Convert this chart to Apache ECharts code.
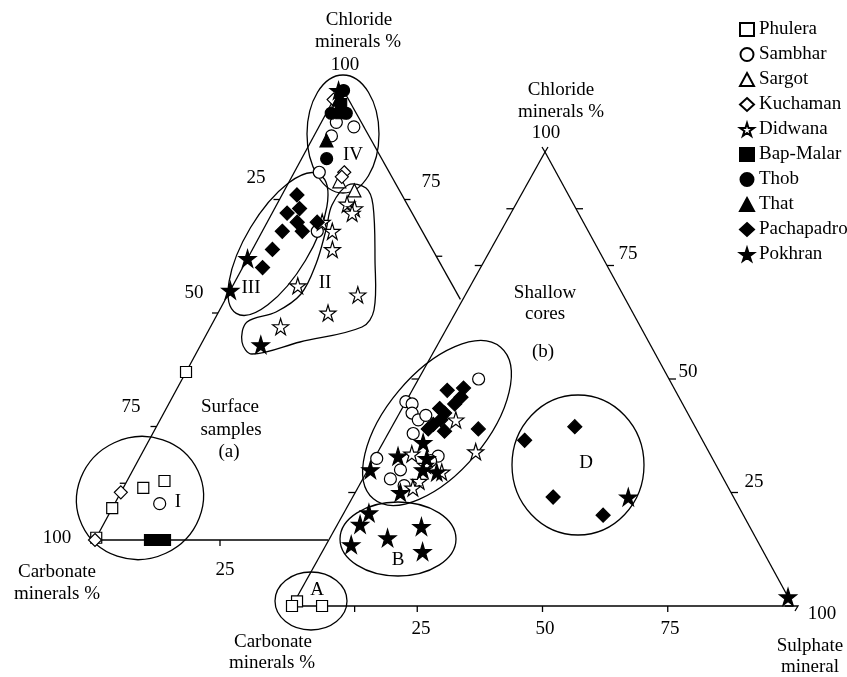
<!DOCTYPE html>
<html><head><meta charset="utf-8">
<script src="https://cdn.jsdelivr.net/npm/echarts@6/dist/echarts.min.js"></script>
<style>html,body{margin:0;padding:0;background:#fff}#c{width:847px;height:677px}</style>
</head><body><div id="c"></div>
<script>
// ---- DATA: each point is [chloride %, sulphate %, carbonate %] ----
const locations = ['Phulera','Sambhar','Sargot','Kuchaman','Didwana','Bap-Malar','Thob','That','Pachapadro','Pokhran'];
// (a) surface samples
const phuleraSurface = [[37,0,63],[11.5,4,84.5],[13,7.5,79.5],[7,0,93],[0.5,0,99.5]];
const sambharSurface = [[8,9,83],[92,3,5],[91,7,2],[89,3.5,7.5],[81,5,14],[68,11,21]];
const sargotSurface = [[79,10,11],[77,14,9]];
const kuchamanSurface = [[97,0,3],[81,10,9],[80,10,10],[10.5,0,89.5],[0,0,100]];
const didwanaSurface = [[74,14,12],[73,16,11],[72,16,12],[70,11,19],[68,14,18],[64,16,20],[56,13,31],[54,26,20],[50,22,28],[47,14,39]];
const bapMalarSurface = [[96,2,2],[94,3,3],[0,11,89],[0,12.5,87.5],[0,14,86]];
const thobSurface = [[99,1,0],[94,1,5],[94,4,2],[84,5,11]];
const thatSurface = [[97,1,2],[88,3,9]];
const pachapadroSurface = [[76,3,21],[72,3,25],[73,5,22],[70,6,24],[68,8,24],[70,10,20],[68,4,28],[64,4,32],[60,4,36]];
const pokhranSurface = [[99,0,1],[62,0,38],[55,0,45],[43,12,45]];
// (b) shallow cores
const phuleraCores = [[1,0.5,98.5],[0,0,100],[0,6,94]];
const sambharCores = [[50,12,38],[45,0,55],[44.5,1.5,54],[42.5,2.5,55],[41,4.5,54.5],[42,5.5,52.5],[38,5,57],[32.5,0.5,67],[33,12.5,54.5],[30,6.5,63.5],[28,5.5,66.5],[26.5,9,64.5],[32,11.5,56.5]];
const didwanaCores = [[41,12,47],[34,19.5,46.5],[33.5,7,59.5],[31,11,58],[29.5,15,55.5],[27.5,11.5,61],[26,11,63]];
const pachapadroCores = [[47.5,7,45.5],[48,10,42],[46,10.5,43.5],[44.5,10,45.5],[43.5,7.5,49],[42.5,9,48.5],[41,9,50],[40,8,52],[38.5,11,50.5],[39,7.5,53.5],[39,17.5,43.5],[36.5,28,35.5],[39.5,36.5,24],[24,40,36],[20,52,28]];
const pokhranCores = [[30,0.5,69.5],[33,4.5,62.5],[36,8,56],[32.5,10.5,57],[30,11,59],[29.5,14,56.5],[25,9,66],[20.5,5,74.5],[18,4.5,77.5],[13.5,5,81.5],[15,11.5,73.5],[17.5,17,65.5],[12,20,68],[24,55,21],[2,98,0]];
// tick labels
const tickLabelsA = ['25','50','75','100'];
const tickLabelsB = ['25','50','75','100'];

// ---- LAYOUT ----
const FONT = '19px "Liberation Serif", "Times New Roman", serif';
const TRI_A = {top:[341,86], left:[95,540], right:[595,540]};
const TRI_B = {top:[545,152], left:[292,606], right:[793,606]};
function tern(tri, v){
  const cl=v[0], so=v[1], ca=v[2], t=cl+so+ca;
  return [(cl*tri.top[0]+ca*tri.left[0]+so*tri.right[0])/t,
          (cl*tri.top[1]+ca*tri.left[1]+so*tri.right[1])/t];
}
const STAR = 'path://M50,0 L61,35 L98,35 L68,57 L79,91 L50,70 L21,91 L32,57 L2,35 L39,35 Z';
const styles = {
  'Phulera':   {symbol:'rect', size:11, fill:'#fff'},
  'Sambhar':   {symbol:'circle', size:12, fill:'#fff'},
  'Sargot':    {symbol:'triangle', size:13, fill:'#fff'},
  'Kuchaman':  {symbol:'diamond', size:13, fill:'#fff'},
  'Didwana':   {symbol:STAR, size:16, fill:'#fff'},
  'Bap-Malar': {symbol:'rect', size:11, fill:'#000'},
  'Thob':      {symbol:'circle', size:12, fill:'#000'},
  'That':      {symbol:'triangle', size:13, fill:'#000'},
  'Pachapadro':{symbol:'diamond', size:14, fill:'#000'},
  'Pokhran':   {symbol:STAR, size:17, fill:'#000'}
};
const seriesData = {
  'Phulera':[phuleraSurface, phuleraCores],
  'Sambhar':[sambharSurface, sambharCores],
  'Sargot':[sargotSurface, []],
  'Kuchaman':[kuchamanSurface, []],
  'Didwana':[didwanaSurface, didwanaCores],
  'Bap-Malar':[bapMalarSurface, []],
  'Thob':[thobSurface, []],
  'That':[thatSurface, []],
  'Pachapadro':[pachapadroSurface, pachapadroCores],
  'Pokhran':[pokhranSurface, pokhranCores]
};

const edges = [
  [TRI_A,[100,0,0],[0,0,100]],
  [TRI_A,[0,0,100],[0,46.6,53.4]],
  [TRI_A,[100,0,0],[53,47,0]],
  [TRI_B,[100,0,0],[0,0,100]],
  [TRI_B,[0,0,100],[0,100,0]],
  [TRI_B,[0,100,0],[100,0,0]]
];

const series = [];
edges.forEach(e=>{
  series.push({type:'line', data:[tern(e[0],e[1]), tern(e[0],e[2])], showSymbol:false, silent:true,
    lineStyle:{color:'#000', width:1.3}, z:1, animation:false});
});
locations.forEach(name=>{
  const st = styles[name];
  const d = seriesData[name][0].map(v=>tern(TRI_A,v)).concat(seriesData[name][1].map(v=>tern(TRI_B,v)));
  series.push({type:'scatter', name:name, data:d, symbol:st.symbol, symbolSize:st.size,
    itemStyle:{color:st.fill, borderColor:'#000', borderWidth:1.2, opacity:1}, z:3, animation:false,
    emphasis:{disabled:true}});
});

const chart = echarts.init(document.getElementById('c'));
chart.setOption({
  animation:false,
  grid:{left:0,right:0,top:0,bottom:0},
  xAxis:{type:'value', min:0, max:847, show:false},
  yAxis:{type:'value', min:0, max:677, inverse:true, show:false},
  legend:{data:locations, orient:'vertical', left:734, top:15, itemWidth:14, itemHeight:13, itemGap:6,
    textStyle:{fontFamily:'"Liberation Serif", serif', fontSize:19, color:'#000', lineHeight:16}},
  series:series
});

// ticks
const tickSpecs = [
  [TRI_A,[100,0,0],[0,0,100],[0.25,0.5,0.75,0.875],[-6,0]],
  [TRI_A,[100,0,0],[0,100,0],[0.25,0.375],[6,0]],
  [TRI_A,[0,0,100],[0,100,0],[0.25],[0,6]],
  [TRI_B,[100,0,0],[0,0,100],[0.125,0.25,0.5,0.75],[-7,0]],
  [TRI_B,[100,0,0],[0,100,0],[0.125,0.25,0.5,0.75],[7,0]],
  [TRI_B,[0,0,100],[0,100,0],[0.125,0.25,0.5,0.75],[0,6]]
];
const graphics = [];
tickSpecs.forEach(ts=>{
  ts[3].forEach(f=>{
    const v = [0,1,2].map(i=>ts[1][i]*(1-f)+ts[2][i]*f);
    const p = chart.convertToPixel({xAxisIndex:0,yAxisIndex:0}, tern(ts[0],v));
    graphics.push({type:'line', shape:{x1:p[0],y1:p[1],x2:p[0]+ts[4][0],y2:p[1]+ts[4][1]},
      style:{stroke:'#000', lineWidth:1.3}, z:1, silent:true});
  });
});
// apex & corner extensions of (b)
const apx = chart.convertToPixel({xAxisIndex:0,yAxisIndex:0}, tern(TRI_B,[100,0,0]));
graphics.push({type:'polyline', shape:{points:[[apx[0]-3,apx[1]-5],[apx[0],apx[1]],[apx[0]+3,apx[1]-5]]}, style:{stroke:'#000',lineWidth:1.3,fill:null}, silent:true});
const brx = chart.convertToPixel({xAxisIndex:0,yAxisIndex:0}, tern(TRI_B,[0,100,0]));
graphics.push({type:'polyline', shape:{points:[[brx[0]-8,brx[1]],[brx[0]+5,brx[1]],[brx[0]+2,brx[1]+5]]}, style:{stroke:'#000',lineWidth:1.3,fill:null}, silent:true});

// group outlines
const ellipses = [
  [343,134,36,59,0],      // IV
  [278,244,81,32,59],     // III
  [140,498,64,61,25],     // I
  [437,423,99,50,50],     // big (b)
  [398,539,58,37,0],      // B
  [311,601,36,29,0],      // A
  [578,465,66,70,0]       // D
];
ellipses.forEach(e=>{
  graphics.push({type:'ellipse', x:e[0], y:e[1], rotation:e[4]*Math.PI/180,
    shape:{cx:0,cy:0,rx:e[2],ry:e[3]}, style:{fill:null, stroke:'#000', lineWidth:1.3}, z:2, silent:true});
});
graphics.push({type:'polygon', shape:{smooth:0.35, points:[[348,185],[366,188],[373,205],[375,260],[374,310],[362,327],[300,342],[252,354],[242,342],[247,322],[276,312],[301,294],[316,264],[326,230],[332,205]]},
  style:{fill:null, stroke:'#000', lineWidth:1.3}, z:2, silent:true});

const texts = [
  ['Chloride',359,20],['minerals %',358,42],['100',345,65],
  [tickLabelsA[0],256,178],[tickLabelsA[1],194,293],[tickLabelsA[2],131,407],[tickLabelsA[3],57,538],
  ['Carbonate',57,572],['minerals %',57,594],
  [tickLabelsA[0],225,570],[tickLabelsA[2],431,182],
  ['Surface',230,407],['samples',231,430],['(a)',229,452],
  ['Chloride',561,90],['minerals %',561,112],[tickLabelsB[3],546,133],
  [tickLabelsB[2],628,254],[tickLabelsB[1],688,372],[tickLabelsB[0],754,482],
  [tickLabelsB[0],421,629],[tickLabelsB[1],545,629],[tickLabelsB[2],670,629],[tickLabelsB[3],822,614],
  ['Carbonate',273,642],['minerals %',272,663],
  ['Sulphate',810,646],['mineral',810,667],
  ['Shallow',545,293],['cores',545,314],['(b)',543,352],
  ['IV',353,155],['III',251,288],['II',325,283],['I',178,502],['A',317,590],['B',398,560],['D',586,463]
];
texts.forEach(t=>{
  graphics.push({type:'text', x:t[1], y:t[2], z:5, silent:true,
    style:{text:t[0], font:FONT, fill:'#000', align:'center', verticalAlign:'middle'}});
});
chart.setOption({graphic:graphics});
</script></body></html>
